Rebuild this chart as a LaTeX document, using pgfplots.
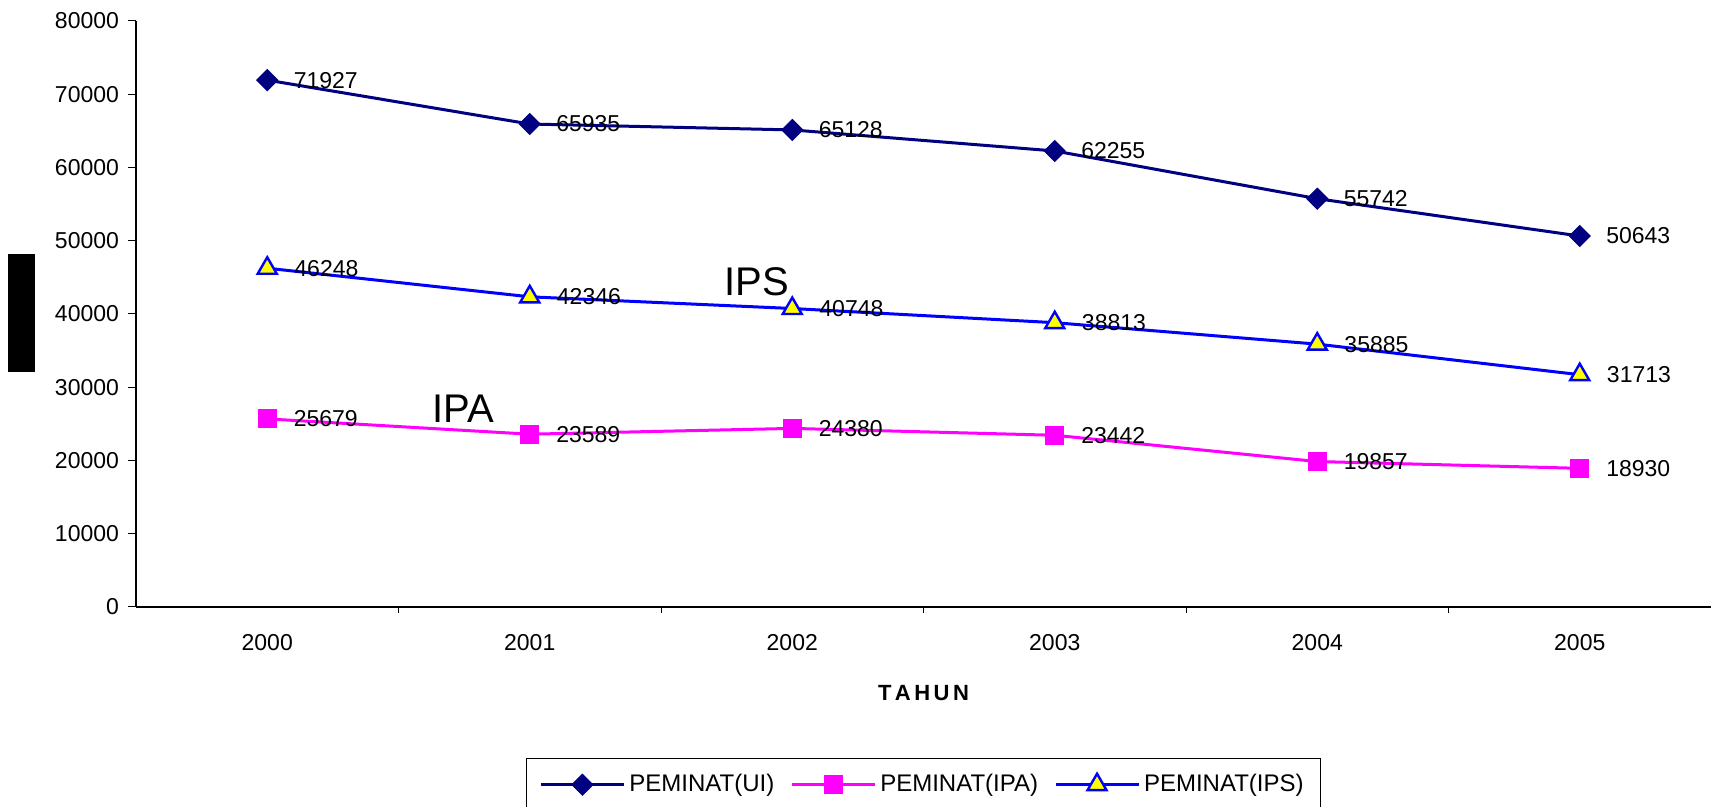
\documentclass[border=0pt]{standalone}
\usepackage{fontspec}
\setmainfont{Liberation Sans}
\usepackage{pgfplots}
\pgfplotsset{compat=1.18}
\definecolor{uinavy}{RGB}{0,0,128}
\definecolor{ipamag}{RGB}{255,0,255}
\definecolor{ipsblue}{RGB}{0,0,255}
\definecolor{ipsyel}{RGB}{255,255,0}
\newcommand{\lblfont}{\fontsize{11.5}{13}\selectfont}
\begin{document}
\begin{tikzpicture}
\begin{axis}[
  scale only axis, width=787.5pt, height=293pt,
  xmin=-0.5, xmax=5.5, ymin=0, ymax=80000,
  axis lines*=left,
  axis line style={line width=0.6pt, black},
  clip=false,
  xtick={0,...,5}, xticklabels={2000,2001,2002,2003,2004,2005},
  minor xtick={0.5,1.5,2.5,3.5,4.5},
  ytick={0,10000,...,80000},
  scaled y ticks=false,
  tick align=outside,
  major tick length=4pt, minor tick length=3pt,
  major x tick style={draw=none},
  minor x tick style={black, line width=0.5pt},
  y tick style={black, line width=0.5pt},
  /pgf/number format/fixed,
  /pgf/number format/1000 sep={},
  /pgf/number format/assume math mode=true,
  tick label style={font=\lblfont},
  xticklabel style={yshift=-6pt},
  yticklabel style={xshift=-1pt},
  nodes near coords,
  every node near coord/.append style={anchor=west, inner sep=0pt, xshift=13pt, font=\lblfont, text=black},
  legend columns=3,
  legend style={at={(0.5,-0.2577)}, anchor=north, draw=black, line width=0.5pt,
    font=\fontsize{12}{14}\selectfont, inner xsep=6.5pt, inner ysep=6pt,
    /tikz/every even column/.append style={column sep=6pt}},
  legend image code/.code={\draw[mark repeat=2,mark phase=2] plot coordinates {(0pt,0pt) (20.75pt,0pt) (41.5pt,0pt)};},
]
\addplot[color=uinavy, line width=1.5pt, mark=square*, mark size=3.7pt,
  mark options={rotate=45, fill=uinavy, draw=uinavy, line width=0.5pt, solid}]
  coordinates {(0,71927) (1,65935) (2,65128) (3,62255) (4,55742) (5,50643)};
\addlegendentry{PEMINAT(UI)}
\addplot[color=ipamag, line width=1.5pt, mark=square*, mark size=4.5pt,
  mark options={fill=ipamag, draw=ipamag, line width=0.5pt, solid}]
  coordinates {(0,25679) (1,23589) (2,24380) (3,23442) (4,19857) (5,18930)};
\addlegendentry{PEMINAT(IPA)}
\addplot[color=ipsblue, line width=1.5pt, mark=triangle*, mark size=5.5pt,
  mark options={fill=ipsyel, draw=ipsblue, line width=1.2pt, solid}]
  coordinates {(0,46248) (1,42346) (2,40748) (3,38813) (4,35885) (5,31713)};
\addlegendentry{PEMINAT(IPS)}
\node[font=\fontsize{20}{24}\selectfont] at (axis cs:1.865,44369) {IPS};
\node[font=\fontsize{20}{24}\selectfont] at (axis cs:0.747,27031) {IPA};
\node[font=\bfseries\fontsize{11}{13}\selectfont] at (rel axis cs:0.5,-0.1468) {T\kern1.75pt A\kern1.75pt H\kern1.75pt U\kern1.75pt N};
\fill[black] (rel axis cs:-0.0813,0.4010) rectangle (rel axis cs:-0.0641,0.6024);
\coordinate (bbsw) at (rel axis cs:-0.08635,-0.34130);
\coordinate (bbne) at (rel axis cs:1.00127,1.03584);
\end{axis}
\pgfresetboundingbox
\path[use as bounding box] (bbsw) rectangle (bbne);
\end{tikzpicture}
\end{document}
